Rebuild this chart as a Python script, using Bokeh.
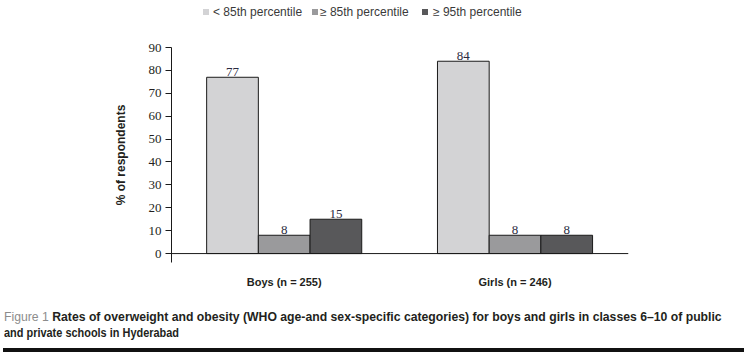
from bokeh.plotting import figure
from bokeh.models import Span, FixedTicker, Range1d, ColumnDataSource, Div, CustomJSTickFormatter
from bokeh.layouts import column
from bokeh.embed import file_html
from bokeh.resources import INLINE
from bokeh.core.properties import value

# ---- data ----
groups = ["Boys", "Girls"]
group_n = ["255", "246"]
cat_labels = ["Boys (n = 255)", "Girls (n = 246)"]
series = ["< 85th percentile", "\u2265 85th percentile", "\u2265 95th percentile"]
below85 = [77, 84]
over85 = [8, 8]
over95 = [15, 8]
colors = ["#d3d3d5", "#9a9a9c", "#58585a"]
yticks = [0, 10, 20, 30, 40, 50, 60, 70, 80, 90]
caption_head = "Figure 1"
caption_line1 = "Rates of overweight and obesity (WHO age-and sex-specific categories) for boys and girls in classes 6\u201310 of public"
caption_line2 = "and private schools in Hyderabad"
ylabel = "% of respondents"

W = 747
TOP = 24          # legend strip height
FIG_BOTTOM = 290  # page y where the figure ends
FL, FR, FT, FB = 171, 628, 47, 262   # frame edges in page pixels
H = FIG_BOTTOM - TOP

# ---- legend strip ----
sq_x = [203, 312, 422]
tx_x = [213, 320, 433]
items = ""
for s in range(3):
    label = series[s].replace("<", "&lt;")
    items += ('<span style="position:absolute;left:%dpx;top:9px;width:6px;height:6px;'
              'background:%s"></span>' % (sq_x[s], colors[s]))
    items += ('<span style="position:absolute;left:%dpx;top:4px;line-height:16px;'
              'white-space:nowrap">%s</span>' % (tx_x[s], label))
legend_div = Div(text='<div style="position:relative;width:%dpx;height:%dpx;'
                      'font-family:\'Liberation Sans\';font-size:12px;color:#3a3a3a">%s</div>'
                      % (W, TOP, items),
                 width=W, height=TOP, margin=0)

# ---- chart ----
p = figure(width=W, height=H, output_backend="svg", toolbar_location=None,
           x_range=Range1d(0, 8.84), y_range=Range1d(-3.9, 90),
           min_border_left=FL, min_border_right=W - FR, min_border_top=FT - TOP,
           min_border_bottom=FIG_BOTTOM - FB)
p.outline_line_color = None
p.xgrid.visible = False
p.ygrid.visible = False

ya = p.yaxis[0]
ya.ticker = FixedTicker(ticks=yticks)
ya.major_tick_out = 6
ya.major_tick_in = 0
ya.minor_tick_line_color = None
ya.axis_line_color = "#1a1a1a"
ya.major_tick_line_color = "#1a1a1a"
ya.major_label_text_font = "Liberation Serif"
ya.major_label_text_font_size = "13px"
ya.major_label_text_color = "#231f20"
ya.major_label_standoff = 4
ya.axis_label = ylabel
ya.axis_label_text_font = "Liberation Sans"
ya.axis_label_text_font_style = "bold"
ya.axis_label_text_font_size = "12px"
ya.axis_label_text_color = "#231f20"
ya.axis_label_standoff = 18

group_start = [0.68, 5.145]
centers = [g + 1.5 for g in group_start]

xa = p.xaxis[0]
xa.ticker = FixedTicker(ticks=centers)
xa.formatter = CustomJSTickFormatter(args=dict(labels=cat_labels), code="return labels[index];")
xa.axis_line_color = None
xa.major_tick_line_color = None
xa.minor_tick_line_color = None
xa.major_label_standoff = 7
xa.major_label_text_font = "Liberation Sans"
xa.major_label_text_font_style = "bold"
xa.major_label_text_font_size = "11px"
xa.major_label_text_color = "#231f20"

p.add_layout(Span(location=0, dimension="width", line_color="#1a1a1a", line_width=1))

vals = [below85, over85, over95]
for s in range(3):
    xs = [group_start[g] + s + 0.5 for g in range(2)]
    src = ColumnDataSource(dict(x=xs, top=vals[s], t=[str(v) for v in vals[s]]))
    p.vbar(x="x", top="top", bottom=0, width=1, source=src,
           fill_color=colors[s], line_color="#1a1a1a", line_width=1)
    p.text(x="x", y="top", text="t", source=src, text_align="center", text_baseline="bottom",
           y_offset=-1, text_font=value("Liberation Serif"), text_font_size="13px",
           text_color="#2a2a40")

# ---- caption ----
CAP_H = 348 - FIG_BOTTOM
cap_html = ('<div style="position:relative;width:%dpx;height:%dpx;font-family:\'Liberation Sans\';'
            'font-size:13.5px;line-height:16px;color:#231f20">'
            '<div style="position:absolute;left:4px;top:19px;white-space:nowrap;'
            'transform:scaleX(0.905);transform-origin:0 0">'
            '<span style="color:#8c8c8c">%s</span> <b>%s</b></div>'
            '<div style="position:absolute;left:4px;top:35px;white-space:nowrap;'
            'transform:scaleX(0.81);transform-origin:0 0"><b>%s</b></div></div>'
            % (W, CAP_H, caption_head, caption_line1, caption_line2))
caption_div = Div(text=cap_html, width=W, height=CAP_H, margin=0)

rule = Div(text="", width=W - 6, height=4, margin=(0, 0, 0, 3),
           styles={"background-color": "#111111"})

layout = column(legend_div, p, caption_div, rule, spacing=0)
open("out.html", "w").write(file_html(layout, INLINE))
